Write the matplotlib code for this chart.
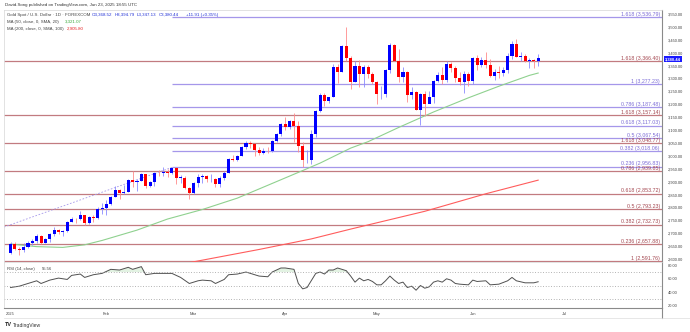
import numpy as np
import pandas as pd
import matplotlib
matplotlib.use('Agg')
import matplotlib.pyplot as plt
from matplotlib.lines import Line2D

plt.rcParams['font.family'] = ['Liberation Sans', 'DejaVu Sans']

# daily OHLC, Jan 2 - Jun 23 2025 (no bar on Good Friday)
opens = [2624, 2658, 2640, 2636, 2648, 2661, 2670, 2690, 2662, 2677, 2697, 2714, 2703, 2708, 2745, 2755, 2754, 2770, 2740, 2763, 2760, 2794,
         2798, 2815, 2842, 2866, 2856, 2861, 2908, 2898, 2904, 2928, 2883, 2898, 2935, 2933, 2939, 2935, 2951, 2915, 2916, 2876,
         2857, 2893, 2918, 2920, 2910, 2910, 2889, 2916, 2934, 2989, 2984, 3001, 3034, 3048, 3044, 3022, 3010, 3020, 3019, 3057, 3084,
         3124, 3113, 3134, 3114, 3037, 2982, 2982, 3083, 3175, 3237, 3211, 3229, 3343, 3327, 3424, 3381, 3288, 3349, 3319, 3343, 3317,
         3288, 3238, 3240, 3334, 3431, 3366, 3306, 3325, 3235, 3249, 3177, 3240, 3200, 3230, 3289, 3314, 3294, 3357, 3342, 3300, 3288, 3318,
         3289, 3381, 3353, 3372, 3352, 3310, 3325, 3322, 3334, 3386, 3433, 3385, 3388, 3369, 3370, 3368.52]
highs = [2665, 2665, 2647, 2664, 2670, 2678, 2697, 2694, 2683, 2699, 2724, 2716, 2711, 2746, 2763, 2759, 2786, 2772, 2765, 2771, 2800, 2817,
         2830, 2845, 2882, 2871, 2887, 2911, 2942, 2911, 2932, 2931, 2904, 2936, 2947, 2955, 2948, 2956, 2953, 2927, 2920, 2881,
         2900, 2928, 2930, 2926, 2930, 2914, 2922, 2940, 2990, 3005, 3002, 3038, 3057, 3057, 3047, 3035, 3030, 3033, 3060, 3087, 3128,
         3149, 3140, 3167, 3136, 3055, 3022, 3099, 3176, 3245, 3245, 3230, 3358, 3357, 3430, 3500, 3386, 3368, 3371, 3351, 3352, 3327,
         3290, 3269, 3337, 3437, 3435, 3415, 3345, 3330, 3266, 3252, 3245, 3253, 3250, 3295, 3325, 3345, 3366, 3365, 3350, 3325, 3330, 3326,
         3383, 3392, 3385, 3403, 3375, 3338, 3349, 3345, 3397, 3446, 3452, 3404, 3396, 3378, 3374, 3394.79]
lows = [2621, 2636, 2615, 2626, 2642, 2655, 2661, 2657, 2661, 2667, 2691, 2697, 2688, 2705, 2743, 2741, 2752, 2730, 2736, 2745, 2754, 2775,
        2772, 2809, 2839, 2834, 2853, 2858, 2880, 2865, 2901, 2876, 2880, 2885, 2920, 2920, 2917, 2930, 2890, 2895, 2873, 2832,
        2854, 2880, 2894, 2897, 2898, 2880, 2880, 2906, 2932, 2980, 2980, 2998, 3025, 3030, 2999, 3005, 3007, 3010, 3015, 3055, 3076,
        3100, 3105, 3054, 3015, 2957, 2971, 2970, 3073, 3170, 3194, 3204, 3229, 3284, 3325, 3367, 3260, 3287, 3266, 3268, 3301, 3277,
        3202, 3222, 3230, 3320, 3366, 3288, 3288, 3208, 3220, 3176, 3121, 3154, 3206, 3205, 3285, 3278, 3287, 3325, 3286, 3276, 3245, 3271,
        3280, 3333, 3344, 3339, 3307, 3293, 3300, 3311, 3320, 3377, 3382, 3366, 3362, 3340, 3340, 3347.13]
closes = [2658, 2640, 2636, 2648, 2661, 2670, 2690, 2662, 2677, 2697, 2714, 2703, 2708, 2745, 2755, 2754, 2770, 2740, 2763, 2760, 2794, 2798,
          2815, 2842, 2866, 2856, 2861, 2908, 2898, 2904, 2928, 2883, 2898, 2935, 2933, 2939, 2935, 2951, 2915, 2916, 2876, 2857,
          2893, 2918, 2920, 2910, 2910, 2889, 2916, 2934, 2989, 2984, 3001, 3034, 3048, 3044, 3022, 3010, 3020, 3019, 3057, 3084, 3124,
          3113, 3134, 3114, 3037, 2982, 2982, 3083, 3175, 3237, 3211, 3229, 3343, 3327, 3424, 3381, 3288, 3349, 3319, 3343, 3317, 3288,
          3238, 3240, 3334, 3431, 3366, 3306, 3325, 3235, 3249, 3177, 3240, 3200, 3230, 3289, 3314, 3294, 3357, 3342, 3300, 3288, 3318, 3289,
          3381, 3353, 3372, 3352, 3310, 3325, 3322, 3334, 3386, 3433, 3385, 3388, 3369, 3370, 3368, 3380.44]

# moving averages (bar index, value)
ma50_idx = [0, 6, 12, 17, 21, 29, 36, 44, 52, 60, 67, 71, 78, 82, 89, 97, 105, 112, 119, 121]
ma50_val = [2658, 2648, 2645, 2655, 2672, 2712, 2755, 2792, 2836, 2893, 2943, 2972, 3030, 3055, 3110, 3170, 3225, 3270, 3312, 3321.07]
ma200_idx = [41, 57, 69, 78, 95, 109, 121]
ma200_val = [2586, 2637, 2678, 2716, 2785, 2853, 2905.8]

# RSI(14)
rsi_idx = [0, 2, 4, 6, 7, 9, 11, 13, 14, 16, 17, 19, 21, 23, 25, 27, 28, 30, 31, 33, 36, 37, 39, 41, 43, 44, 46, 47, 49, 50,
           52, 54, 55, 57, 59, 60, 62, 63, 65, 66, 67, 68, 70, 71, 72, 73, 74, 75, 77, 78, 79, 80, 81, 82, 83, 84, 85, 86,
           87, 88, 89, 90, 91, 92, 93, 94, 95, 96, 97, 98, 99, 100, 101, 102, 103, 105, 106, 107, 109, 110, 112, 114, 115,
           116, 118, 119, 120, 121]
rsi_val = [47, 49, 53, 57, 53, 58, 61, 59, 65, 67, 62, 66, 68, 74, 73, 77, 74, 78, 66, 68, 68, 68, 62, 53, 57, 58, 57, 53, 59, 66,
           67, 70, 68, 64, 63, 70, 76, 76, 74, 53, 45, 47, 68, 70, 67, 73, 73, 76, 72, 64, 55, 61, 57, 59, 56, 51, 51, 57,
           64, 58, 53, 55, 47, 49, 43, 50, 46, 48, 55, 57, 55, 60, 58, 53, 52, 51, 58, 56, 57, 51, 52, 57, 62,
           57, 54, 54, 54, 55.56]

# fibonacci levels: (price, label)
red_levels = [(3366.40, '1.618 (3,366.40)'), (3157.14, '1.618 (3,157.14)'), (3048.77, '1.618 (3,048.77)'),
              (2939.85, '0.786 (2,939.85)'), (2853.72, '0.618 (2,853.72)'), (2793.23, '0.5 (2,793.23)'),
              (2732.73, '0.382 (2,732.73)'), (2657.88, '0.236 (2,657.88)'), (2591.76, '1 (2,591.76)')]
purple_levels = [(3536.79, '1.618 (3,536.79)'), (3277.23, '1 (3,277.23)'), (3187.48, '0.786 (3,187.48)'),
                 (3117.03, '0.618 (3,117.03)'), (3067.54, '0.5 (3,067.54)'), (3018.06, '0.382 (3,018.06)'),
                 (2956.83, '0.236 (2,956.83)')]
trend_idx = [-1.5, 37.3]
trend_val = [2724, 2957]

W, H = 690, 332
def box(l, t, r, b):
    return [l / W, 1 - b / H, (r - l) / W, (b - t) / H]

fig = plt.figure(figsize=(W / 100, H / 100), dpi=100)
ax = fig.add_axes(box(4, 10, 662, 262))
axr = fig.add_axes(box(4, 262, 662, 308), sharex=ax)

o, h, l, c = map(np.array, (opens, highs, lows, closes))
x = np.arange(len(c))
up = c >= o

XMIN, XMAX = -1.5, 149.4

# fib lines
for p, lab in red_levels:
    ax.hlines(p, XMIN, XMAX, color='#c27b80', lw=0.9, zorder=1)
    ax.text(148.9, p + 2, lab, ha='right', va='bottom', fontsize=3.8, color='#a4464f')
for p, lab in purple_levels:
    ax.hlines(p, 37, XMAX, color='#a597ea', lw=0.9, zorder=1)
    ax.text(148.9, p + 2, lab, ha='right', va='bottom', fontsize=3.8, color='#7b6bd6')
ax.plot(trend_idx, trend_val, color='#a597ea', lw=0.6, ls=(0, (2, 2)), zorder=1)

# moving averages
ax.plot(ma50_idx, ma50_val, color='#8fd18f', lw=0.8, zorder=2)
ax.plot(ma200_idx, ma200_val, color='#ff5c5c', lw=0.8, zorder=2)

# candles
ax.vlines(x, l, h, colors=np.where(up, '#8a8aff', '#ff8a8a'), lw=0.6, zorder=3)
ax.bar(x, np.maximum(np.abs(c - o), 1.5), bottom=np.minimum(o, c), width=0.7,
       color=np.where(up, '#0000ff', '#ff0000'), lw=0, zorder=4)

ax.set_xlim(XMIN, XMAX)
ax.set_ylim(2588.4, 3565.5)
ticks = np.arange(2600, 3551, 50)
ax.set_yticks(ticks)
ax.set_yticklabels([f'{t:,.2f}' for t in ticks])
ax.tick_params(axis='y', left=False, right=True, labelleft=False, labelright=True,
               length=0, pad=4, labelsize=2.9, labelcolor='#444444')
ax.tick_params(axis='x', bottom=False, labelbottom=False)

# RSI pane
axr.plot(rsi_idx, rsi_val, color='#505050', lw=0.7)
rv = np.array(rsi_val, dtype=float)
axr.fill_between(rsi_idx, 70, rv, where=rv > 70, color='#e2f2e2', lw=0, interpolate=True)
for lev in (70, 50, 30):
    axr.axhline(lev, color='#9a9a9a', lw=0.6, ls=(0, (1, 2.2)))
axr.set_ylim(16.6, 84.9)
axr.set_yticks([20, 40, 60, 80])
axr.set_yticklabels(['20.00', '40.00', '60.00', '80.00'])
axr.tick_params(axis='y', left=False, right=True, labelleft=False, labelright=True,
                length=0, pad=4, labelsize=2.9, labelcolor='#444444')
axr.text(0.005, 0.9, 'RSI (14, close)', transform=axr.transAxes, fontsize=3.1, color='#444444', va='top')
axr.text(0.058, 0.9, '55.56', transform=axr.transAxes, fontsize=3.1, color='#444444', va='top')

# month ticks
full = pd.bdate_range('2025-01-02', '2025-07-31')
full = full[full != pd.Timestamp('2025-04-18')]
firsts = pd.Series(range(len(full)), index=full).groupby(full.month).first()
mlabels = ['2025' if m == 1 else pd.Timestamp(2025, m, 1).strftime('%b') for m in firsts.index]
axr.set_xticks(firsts.values)
axr.set_xticklabels(mlabels)
axr.tick_params(axis='x', length=0, pad=3, labelsize=2.9, labelcolor='#444444')

for a in (ax, axr):
    for s in a.spines.values():
        s.set_color('#d6d6d6')
        s.set_linewidth(0.5)
    a.spines['right'].set_color('#8a8a8a')
    a.spines['right'].set_linewidth(0.8)
axr.spines['bottom'].set_color('#8a8a8a')
axr.spines['bottom'].set_linewidth(0.8)

# frame lines around the time scale
fig.add_artist(Line2D([662 / W, 662 / W], [1 - 308 / H, 1 - 318 / H], color='#8a8a8a', lw=0.8))
fig.add_artist(Line2D([4 / W, 1], [1 - 318 / H, 1 - 318 / H], color='#dddddd', lw=0.5))

# header
def ftext(px, py, s, **kw):
    fig.text(px / W, 1 - py / H, s, va='center', **kw)

ftext(5, 5, 'David.Song published on TradingView.com, Jun 23, 2025 18:55 UTC', fontsize=3.2, color='#333333')
ftext(7, 15, 'Gold Spot / U.S. Dollar · 1D · FOREXCOM', fontsize=3.2, color='#444444')
for px, s in [(92, 'O3,368.52'), (115, 'H3,394.79'), (137, 'L3,347.13'), (159, 'C3,380.44'), (186, '+11.91 (+0.35%)')]:
    ftext(px, 15, s, fontsize=3.2, color='#1f2fd6')
ftext(7, 22, 'MA (50, close, 0, SMA, 20)', fontsize=3.2, color='#444444')
ftext(65, 22, '3,321.07', fontsize=3.2, color='#3aa83a')
ftext(7, 29, 'MA (200, close, 0, SMA, 100)', fontsize=3.2, color='#444444')
ftext(67, 29, '2,905.80', fontsize=3.2, color='#e62020')

# last price tag
ftext(665, 59, '3,380.44', fontsize=2.9, color='white', fontweight='bold',
      bbox=dict(boxstyle='square,pad=0.35', fc='#1a1aff', ec='none'))

# logo
ftext(5, 325, 'TV', fontsize=4, color='#222222', fontweight='bold')
ftext(13, 325, 'TradingView', fontsize=3.6, color='#333333')

fig.savefig('out.png', dpi=100, facecolor='white')
